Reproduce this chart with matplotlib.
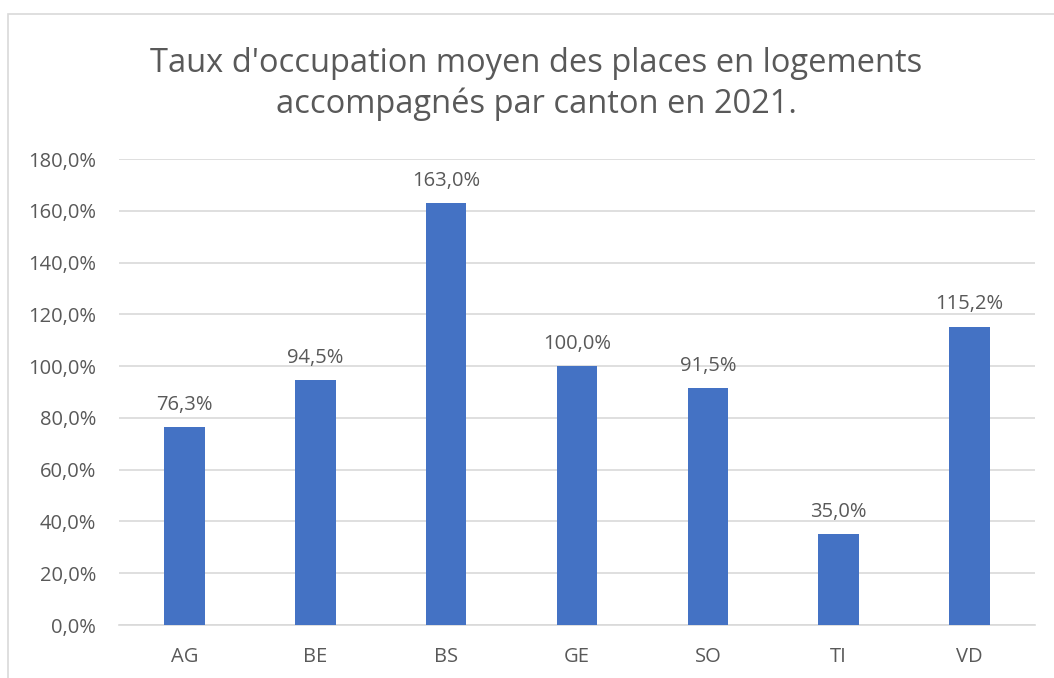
import matplotlib
matplotlib.use("Agg")
import matplotlib.pyplot as plt
from matplotlib.patches import Rectangle
from matplotlib.ticker import FuncFormatter

categories = ["AG", "BE", "BS", "GE", "SO", "TI", "VD"]
values = [76.3, 94.5, 163.0, 100.0, 91.5, 35.0, 115.2]
yticks = [0, 20, 40, 60, 80, 100, 120, 140, 160, 180]

plt.rcParams['font.family'] = ['Open Sans', 'DejaVu Sans']
gray = "#595959"

W, H = 1054, 678
fig = plt.figure(figsize=(W / 100, H / 100), dpi=100)

def fx(px):
    return px / W

def fy(py):
    return 1 - py / H

# outer chart border (extends beyond image on right/bottom)
fig.patches.append(Rectangle((fx(8), fy(700)), fx(1100) - fx(8), fy(14) - fy(700),
                             transform=fig.transFigure, fill=False,
                             edgecolor="#d9d9d9", linewidth=1.2))

ax = fig.add_axes([fx(119), fy(625), fx(1035) - fx(119), fy(159) - fy(625)])
x = list(range(len(categories)))
bars = ax.bar(x, values, width=0.31, color="#4472C4", zorder=3)
ax.set_xlim(-0.5, len(categories) - 0.5)
ax.set_ylim(0, 180)
ax.set_yticks(yticks)
ax.yaxis.set_major_formatter(FuncFormatter(lambda v, p: f"{v:.1f}".replace(".", ",") + "%"))
ax.set_xticks(x)
ax.set_xticklabels(categories)
ax.grid(axis="y", color="#d9d9d9", linewidth=1.2, zorder=0)
for s in ["top", "right", "left"]:
    ax.spines[s].set_visible(False)
ax.spines["bottom"].set_color("#d9d9d9")
ax.spines["bottom"].set_linewidth(1.2)
ax.tick_params(axis="both", length=0, colors=gray, labelsize=14.5)
ax.tick_params(axis="y", pad=16.5)
ax.tick_params(axis="x", pad=16)

for xi, v in zip(x, values):
    ax.annotate(f"{v:.1f}".replace(".", ",") + "%", (xi, v), xytext=(0, 9),
                textcoords="offset points", ha="center", va="bottom",
                fontsize=14.5, color=gray)

fig.text(fx(536), fy(84), "Taux d'occupation moyen des places en logements\naccompagnés par canton en 2021.",
         ha="center", va="center", fontsize=23.5, color=gray, linespacing=1.32)

fig.savefig("out.png", dpi=100)
